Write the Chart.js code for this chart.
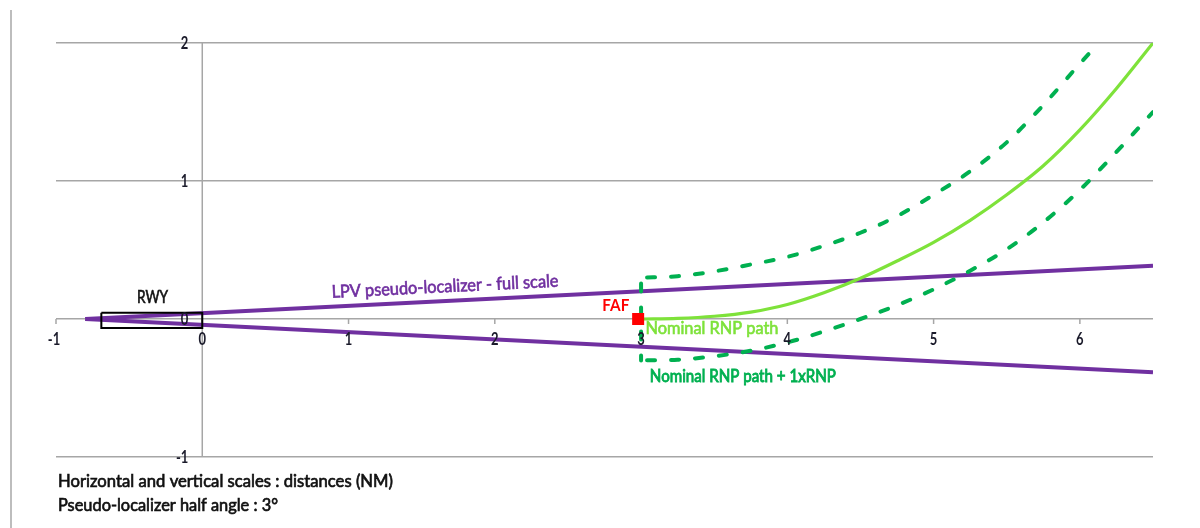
<!DOCTYPE html>
<html>
<head>
<meta charset="utf-8">
<script src="https://cdn.jsdelivr.net/npm/chart.js@4.4.1/dist/chart.umd.min.js"></script>
<style>
  html, body { margin: 0; padding: 0; background: #fff; }
  #wrap { position: relative; width: 1200px; height: 528px; }
</style>
</head>
<body>
<div id="wrap"><canvas id="c" width="1200" height="528"></canvas></div>
<script>
// Tick labels (NM)
const xTicks = [-1, 0, 1, 2, 3, 4, 5, 6];
const yTicks = [-1, 0, 1, 2];

// LPV pseudo-localizer, full-scale edges (3° half angle from the apex)
const lpvX = [-0.8, 6.5];
const lpvUpper = [0, 0.385];
const lpvLower = [0, -0.385];

// Runway outline
const rwyX = [-0.69, 0, 0, -0.69, -0.69];
const rwyY = [0.045, 0.045, -0.065, -0.065, 0.045];

// Final approach fix
const fafX = [2.98];
const fafY = [0];

// Nominal RNP path
const nominalX = [3, 3.25, 3.5, 3.75, 4, 4.25, 4.5, 4.75, 5, 5.25, 5.5, 5.75, 6, 6.25, 6.5];
const nominalY = [0, 0.005, 0.02, 0.05, 0.105, 0.19, 0.295, 0.42, 0.555, 0.715, 0.90, 1.11, 1.37, 1.67, 2.0];

// Nominal RNP path + 1xRNP containment
const rnpUpperX = [3, 3.25, 3.5, 3.75, 4, 4.25, 4.5, 4.75, 5, 5.25, 5.5, 5.75, 6, 6.13];
const rnpUpperY = [0.30, 0.31, 0.345, 0.395, 0.45, 0.53, 0.625, 0.745, 0.90, 1.07, 1.28, 1.55, 1.85, 2.0];
const rnpLowerX = [3, 3.25, 3.5, 3.75, 4, 4.25, 4.5, 4.75, 5, 5.25, 5.5, 5.75, 6, 6.25, 6.5];
const rnpLowerY = [-0.30, -0.295, -0.27, -0.23, -0.17, -0.09, 0.0, 0.10, 0.215, 0.35, 0.505, 0.70, 0.935, 1.21, 1.50];
const rnpGateX = [3, 3];
const rnpGateY = [0.30, -0.30];

const PURPLE = '#7030A0';
const LIGHT_GREEN = '#7EE23A';
const DARK_GREEN = '#00B050';
const GRID = '#a6a6a6';
const FONT = 'Lato, "Open Sans", sans-serif';
const STRETCH = 1.3;

const pts = (xs, ys) => xs.map((x, i) => ({ x, y: ys[i] }));

function drawText(ctx, text, px, py, opt) {
  ctx.save();
  ctx.font = `${opt.weight || 'normal'} ${opt.size}px ${FONT}`;
  ctx.fillStyle = opt.color;
  ctx.strokeStyle = opt.color;
  ctx.textBaseline = 'middle';
  ctx.textAlign = opt.align || 'left';
  const w = ctx.measureText(text).width;
  const sx = opt.width ? opt.width / w : 1;
  ctx.translate(px, py);
  if (opt.angle) ctx.rotate(opt.angle);
  ctx.scale(sx, STRETCH);
  ctx.fillText(text, 0, 0);
  if (opt.heavy) {
    ctx.lineWidth = opt.heavy;
    ctx.strokeText(text, 0, 0);
  }
  ctx.restore();
}

// Text placed on the plot, anchored in axis units
const notes = [
  { text: 'RWY', x: -0.34, y: 0.16, align: 'center', size: 13.5, width: 31, color: '#111', heavy: 0.5 },
  { text: 'LPV pseudo-localizer - full scale', x: 1.66, y: 0.235, align: 'center', size: 13.5, width: 227, color: PURPLE, angle: -0.0494, heavy: 0.5 },
  { text: 'FAF', x: 2.92, y: 0.10, align: 'right', size: 13.5, width: 27, color: '#ff0000', weight: 'bold' },
  { text: 'Nominal RNP path', x: 3.03, y: -0.07, align: 'left', size: 13.5, width: 133, color: LIGHT_GREEN, heavy: 0.5 },
  { text: 'Nominal RNP path + 1xRNP', x: 3.06, y: -0.415, align: 'left', size: 13.5, width: 186, color: DARK_GREEN, heavy: 0.7 }
];

const footer = [
  { text: 'Horizontal and vertical scales : distances (NM)', dy: 24, width: 335 },
  { text: 'Pseudo-localizer half angle : 3°', dy: 48, width: 220 }
];

const decor = {
  id: 'decor',
  beforeDraw(chart) {
    const ctx = chart.ctx;
    ctx.save();
    ctx.fillStyle = '#fff';
    ctx.fillRect(0, 0, chart.width, chart.height);
    // page frame on the left
    ctx.strokeStyle = '#bdbdbd';
    ctx.lineWidth = 2;
    ctx.beginPath();
    ctx.moveTo(11, 10);
    ctx.lineTo(11, chart.height);
    ctx.stroke();
    ctx.restore();
  },
  beforeDatasetsDraw(chart) {
    const { ctx, scales: { x, y } } = chart;
    const x0 = x.getPixelForValue(0);
    const y0 = y.getPixelForValue(0);
    ctx.save();
    ctx.strokeStyle = GRID;
    ctx.lineWidth = 1.5;
    ctx.beginPath();
    ctx.moveTo(x0, y.getPixelForValue(yTicks[yTicks.length - 1]));
    ctx.lineTo(x0, y.getPixelForValue(yTicks[0]));
    ctx.stroke();
    xTicks.forEach(v => {
      const px = x.getPixelForValue(v);
      ctx.beginPath();
      ctx.moveTo(px, y0);
      ctx.lineTo(px, y0 + 5);
      ctx.stroke();
    });
    ctx.restore();
  },
  afterDatasetsDraw(chart) {
    const { ctx, scales: { x, y }, chartArea } = chart;
    const x0 = x.getPixelForValue(0);
    const y0 = y.getPixelForValue(0);
    xTicks.forEach(v => {
      drawText(ctx, String(v), x.getPixelForValue(v) + (v < 0 ? -2 : 0), y0 + 21,
        { size: 13, color: '#1a1a2a', align: 'center', weight: 'bold' });
    });
    yTicks.forEach(v => {
      drawText(ctx, String(v), x0 - 14, y.getPixelForValue(v) + 1,
        { size: 13, color: '#1a1a2a', align: 'right', weight: 'bold' });
    });
    notes.forEach(n => {
      drawText(ctx, n.text, x.getPixelForValue(n.x), y.getPixelForValue(n.y), n);
    });
    footer.forEach(f => {
      drawText(ctx, f.text, chartArea.left + 2, chartArea.bottom + f.dy,
        { size: 14, color: '#111', align: 'left', width: f.width, heavy: 0.55 });
    });
  }
};

const dashed = {
  showLine: true, borderColor: DARK_GREEN, borderWidth: 4, borderDash: [8, 16],
  borderCapStyle: 'round', pointRadius: 0
};

new Chart(document.getElementById('c'), {
  type: 'scatter',
  data: {
    datasets: [
      { label: 'FAF', data: pts(fafX, fafY), pointStyle: 'rect', pointRadius: 8.5,
        pointBackgroundColor: '#ff0000', pointBorderColor: '#ff0000', pointBorderWidth: 0, showLine: false },
      { label: 'RWY', data: pts(rwyX, rwyY), showLine: true, borderColor: '#000', borderWidth: 2,
        pointRadius: 0, tension: 0, fill: false },
      { label: 'Nominal RNP path', data: pts(nominalX, nominalY), showLine: true, borderColor: LIGHT_GREEN,
        borderWidth: 3.2, pointRadius: 0, cubicInterpolationMode: 'monotone' },
      { ...dashed, label: 'Nominal RNP path + 1xRNP', data: pts(rnpUpperX, rnpUpperY), cubicInterpolationMode: 'monotone', borderDashOffset: -6 },
      { ...dashed, label: 'Nominal RNP path + 1xRNP', data: pts(rnpLowerX, rnpLowerY), cubicInterpolationMode: 'monotone', borderDashOffset: -6 },
      { ...dashed, label: 'Nominal RNP path + 1xRNP', data: pts(rnpGateX, rnpGateY), tension: 0, borderDashOffset: -6 },
      { label: 'LPV pseudo-localizer - full scale', data: pts(lpvX, lpvUpper), showLine: true, borderColor: PURPLE,
        borderWidth: 4, pointRadius: 0, tension: 0 },
      { label: 'LPV pseudo-localizer - full scale', data: pts(lpvX, lpvLower), showLine: true, borderColor: PURPLE,
        borderWidth: 4, pointRadius: 0, tension: 0 }
    ]
  },
  options: {
    responsive: false,
    animation: false,
    devicePixelRatio: 1,
    layout: { padding: { left: 56, right: 47, top: 43, bottom: 71 } },
    plugins: { legend: { display: false }, tooltip: { enabled: false } },
    scales: {
      x: {
        type: 'linear', min: -1, max: 6.5,
        ticks: { display: false, stepSize: 1 },
        grid: { display: false, drawTicks: false },
        border: { display: false }
      },
      y: {
        type: 'linear', min: -1, max: 2,
        ticks: { display: false, stepSize: 1 },
        grid: { color: GRID, lineWidth: 1.5, drawTicks: false },
        border: { display: false }
      }
    }
  },
  plugins: [decor]
});
</script>
</body>
</html>
